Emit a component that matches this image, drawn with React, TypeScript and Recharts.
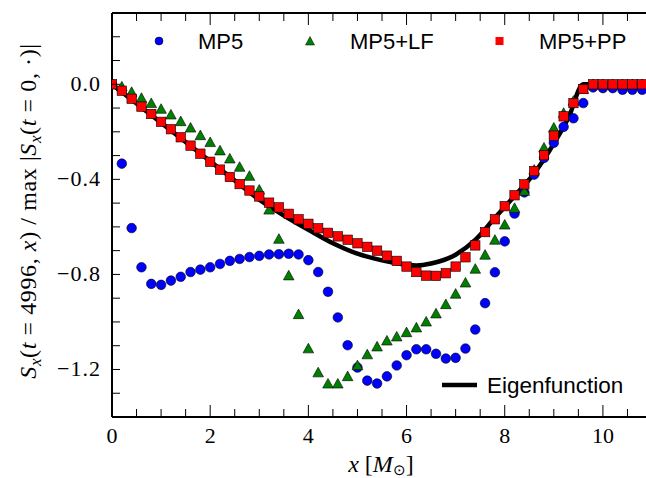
import React from 'react';
import { ComposedChart, Scatter, Line, XAxis, YAxis } from 'recharts';

// grid positions (x in solar masses)
const xs = [
  0, 0.2, 0.4, 0.6, 0.8, 1.0, 1.2, 1.4, 1.6, 1.8, 2.0, 2.2, 2.4, 2.6, 2.8, 3.0, 3.2, 3.4, 3.6, 3.8,
  4.0, 4.2, 4.4, 4.6, 4.8, 5.0, 5.2, 5.4, 5.6, 5.8, 6.0, 6.2, 6.4, 6.6, 6.8, 7.0, 7.2, 7.4, 7.6, 7.8,
  8.0, 8.2, 8.4, 8.6, 8.8, 9.0, 9.2, 9.4, 9.6, 9.8, 10.0, 10.2, 10.4, 10.6, 10.8,
];

const mp5 = [
  0, -0.334, -0.605, -0.77, -0.84, -0.844, -0.826, -0.81, -0.79, -0.78, -0.77, -0.756, -0.743, -0.735, -0.727,
  -0.722, -0.716, -0.715, -0.713, -0.716, -0.74, -0.79, -0.873, -0.981, -1.098, -1.192, -1.247, -1.259, -1.229,
  -1.183, -1.14, -1.115, -1.115, -1.134, -1.154, -1.151, -1.112, -1.032, -0.921, -0.791, -0.661, -0.544, -0.455,
  -0.38, -0.31, -0.246, -0.179, -0.143, -0.079, -0.013, -0.016, -0.016, -0.023, -0.023, -0.023,
];

const mp5lf = [
  0, -0.01, -0.033, -0.058, -0.08, -0.104, -0.128, -0.156, -0.183, -0.215, -0.244, -0.279, -0.313, -0.348, -0.386,
  -0.444, -0.528, -0.651, -0.805, -0.968, -1.112, -1.213, -1.26, -1.26, -1.229, -1.183, -1.137, -1.104, -1.079,
  -1.062, -1.044, -1.024, -0.999, -0.965, -0.926, -0.882, -0.835, -0.777, -0.718, -0.655, -0.591, -0.521, -0.449,
  -0.36, -0.267, -0.183, -0.121, -0.07, -0.02, 0, 0, 0, 0, 0, 0,
];

const mp5pp = [
  0, -0.027, -0.061, -0.094, -0.125, -0.158, -0.189, -0.223, -0.258, -0.292, -0.326, -0.359, -0.39, -0.42, -0.447,
  -0.472, -0.498, -0.518, -0.545, -0.568, -0.587, -0.606, -0.625, -0.64, -0.654, -0.669, -0.684, -0.7, -0.721,
  -0.743, -0.767, -0.79, -0.805, -0.806, -0.795, -0.767, -0.728, -0.678, -0.622, -0.568, -0.513, -0.467, -0.421,
  -0.365, -0.298, -0.216, -0.135, -0.079, -0.02, 0, 0, 0, 0, 0, 0,
];

// eigenfunction curve samples
const eigenX = [0, 0.5, 1, 1.5, 2, 2.5, 3, 3.5, 4, 4.5, 5, 5.5, 6, 6.2, 6.5, 7, 7.4, 7.8, 8.2, 8.6, 9, 9.3, 9.6, 10, 11];
const eigenY = [
  0, -0.081, -0.162, -0.243, -0.324, -0.405, -0.486, -0.552, -0.612, -0.669, -0.713, -0.741, -0.759, -0.762,
  -0.754, -0.717, -0.655, -0.562, -0.47, -0.375, -0.25, -0.14, 0, 0, 0,
];

const xTicks = [0, 0.5, 1, 1.5, 2, 2.5, 3, 3.5, 4, 4.5, 5, 5.5, 6, 6.5, 7, 7.5, 8, 8.5, 9, 9.5, 10, 10.5, 11];
const xLabels = [0, 2, 4, 6, 8, 10];
const yTicks = [-1.4, -1.3, -1.2, -1.1, -1.0, -0.9, -0.8, -0.7, -0.6, -0.5, -0.4, -0.3, -0.2, -0.1, 0, 0.1, 0.2, 0.3];
const yLabels = [-1.2, -0.8, -0.4, 0];

const toPoints = (vals: number[], x: number[]) => vals.map((y, i) => ({ x: x[i], y }));
const mp5Data = toPoints(mp5, xs);
const lfData = toPoints(mp5lf, xs);
const ppData = toPoints(mp5pp, xs);
const eigenData = toPoints(eigenY, eigenX);

const serif = '"Liberation Serif", "Times New Roman", serif';
const sans = '"Liberation Sans", Arial, sans-serif';

const fmtY = (v: number) => (v === 0 ? '0.0' : (v < 0 ? '\u2212' : '') + Math.abs(v).toFixed(1));
const isLabel = (list: number[], v: number) => list.some((l) => Math.abs(l - v) < 1e-6);

const BottomTick = (props: any) => {
  const { x, y, payload } = props;
  const major = isLabel(xLabels, payload.value);
  return (
    <g>
      <line x1={x} x2={x} y1={y} y2={y - (major ? 12 : 8)} stroke="#000" strokeWidth={1} />
      {major && (
        <text x={x} y={y + 26} textAnchor="middle" fontFamily={serif} fontSize={22} fill="#000">
          {payload.value}
        </text>
      )}
    </g>
  );
};

const TopTick = (props: any) => {
  const { x, y, payload } = props;
  const major = isLabel(xLabels, payload.value);
  return <line x1={x} x2={x} y1={y} y2={y + (major ? 12 : 8)} stroke="#000" strokeWidth={1} />;
};

const LeftTick = (props: any) => {
  const { x, y, payload } = props;
  const major = isLabel(yLabels, payload.value);
  return (
    <g>
      <line x1={x} x2={x + 8} y1={y} y2={y} stroke="#000" strokeWidth={1} />
      {major && (
        <text x={x - 11} y={y + 7} textAnchor="end" fontFamily={serif} fontSize={22} fill="#000" letterSpacing={1}>
          {fmtY(payload.value)}
        </text>
      )}
    </g>
  );
};

const RightTick = (props: any) => {
  const { x, y } = props;
  return <line x1={x} x2={x - 8} y1={y} y2={y} stroke="#000" strokeWidth={1} />;
};

const Dot = (p: any) => <circle cx={p.cx} cy={p.cy} r={4.8} fill="#0000ff" stroke="#000" strokeWidth={0.6} />;
const Tri = (p: any) => (
  <polygon
    points={`${p.cx},${p.cy - 5.3} ${p.cx - 5.3},${p.cy + 4.3} ${p.cx + 5.3},${p.cy + 4.3}`}
    fill="#008000"
    stroke="#000"
    strokeWidth={0.6}
  />
);
const Sq = (p: any) => (
  <rect x={p.cx - 4.7} y={p.cy - 4.7} width={9.4} height={9.4} fill="#ff0000" stroke="#000" strokeWidth={0.6} />
);

const YLabel = () => (
  <text
    x={36}
    y={211}
    transform="rotate(-90, 36, 211)"
    textAnchor="middle"
    fontFamily={serif}
    fontSize={24}
    fill="#000"
    letterSpacing={0.6}
  >
    <tspan fontStyle="italic">S</tspan>
    <tspan fontStyle="italic" fontSize={17} dy={5}>x</tspan>
    <tspan dy={-5}>(</tspan>
    <tspan fontStyle="italic">t</tspan>
    <tspan> = 4996, </tspan>
    <tspan fontStyle="italic">x</tspan>
    <tspan>) / max |</tspan>
    <tspan fontStyle="italic">S</tspan>
    <tspan fontStyle="italic" fontSize={17} dy={5}>x</tspan>
    <tspan dy={-5}>(</tspan>
    <tspan fontStyle="italic">t</tspan>
    <tspan> = 0, ·)|</tspan>
  </text>
);

const XLabel = () => (
  <text x={381} y={472} textAnchor="middle" fontFamily={serif} fontSize={24} fill="#000">
    <tspan fontStyle="italic">x</tspan>
    <tspan> [</tspan>
    <tspan fontStyle="italic">M</tspan>
    <tspan fontSize={15} dy={3}>⊙</tspan>
    <tspan dy={-3}>]</tspan>
  </text>
);

const Legends = () => (
  <svg width={646} height={478} style={{ position: 'absolute', left: 0, top: 0, pointerEvents: 'none' }}>
    <circle cx={159} cy={41} r={4} fill="#0000ff" stroke="#000" strokeWidth={0.5} />
    <text x={198} y={49} fontFamily={sans} fontSize={22} fill="#000">MP5</text>
    <polygon points="310,36.5 305.5,45 314.5,45" fill="#008000" stroke="#000" strokeWidth={0.5} />
    <text x={350} y={49} fontFamily={sans} fontSize={22} fill="#000">MP5+LF</text>
    <rect x={495.5} y={37} width={8} height={8} fill="#ff0000" />
    <text x={539} y={49} fontFamily={sans} fontSize={22} fill="#000">MP5+PP</text>
    <line x1={442} x2={477} y1={385} y2={385} stroke="#000" strokeWidth={4.5} />
    <text x={487} y={393} fontFamily={sans} fontSize={22.5} fill="#000">Eigenfunction</text>
    <YLabel />
    <XLabel />
  </svg>
);

export default function App() {
  return (
    <div style={{ position: 'absolute', left: 0, top: 0, width: 646, height: 478, overflow: 'hidden', background: '#fff' }}>
      <ComposedChart width={652} height={478} margin={{ top: 0, right: 0, bottom: 0, left: 0 }}>
        <XAxis
          xAxisId={0}
          dataKey="x"
          type="number"
          domain={[0, 11]}
          ticks={xTicks}
          interval={0}
          allowDataOverflow
          height={61}
          tickSize={0}
          tickMargin={0}
          tickLine={false}
          tick={<BottomTick />}
          axisLine={{ stroke: '#000', strokeWidth: 2 }}
        />
        <XAxis
          xAxisId="top"
          orientation="top"
          dataKey="x"
          type="number"
          domain={[0, 11]}
          ticks={xTicks}
          interval={0}
          allowDataOverflow
          height={13}
          tickSize={0}
          tickMargin={0}
          tickLine={false}
          tick={<TopTick />}
          axisLine={{ stroke: '#000', strokeWidth: 2 }}
        />
        <YAxis
          yAxisId={0}
          type="number"
          domain={[-1.4, 0.3]}
          ticks={yTicks}
          interval={0}
          allowDataOverflow
          width={112}
          tickSize={0}
          tickMargin={0}
          tickLine={false}
          tick={<LeftTick />}
          axisLine={{ stroke: '#000', strokeWidth: 2 }}
        />
        <YAxis
          yAxisId="right"
          orientation="right"
          type="number"
          domain={[-1.4, 0.3]}
          ticks={yTicks}
          interval={0}
          allowDataOverflow
          width={0}
          tickSize={0}
          tickMargin={0}
          tickLine={false}
          tick={<RightTick />}
          axisLine={false}
        />
        <Line
          data={eigenData}
          dataKey="y"
          type="monotone"
          stroke="#000"
          strokeWidth={4.5}
          dot={false}
          activeDot={false}
          isAnimationActive={false}
        />
        <Scatter data={mp5Data} dataKey="y" shape={<Dot />} isAnimationActive={false} />
        <Scatter data={lfData} dataKey="y" shape={<Tri />} isAnimationActive={false} />
        <Scatter data={ppData} dataKey="y" shape={<Sq />} isAnimationActive={false} />
      </ComposedChart>
      <Legends />
    </div>
  );
}
